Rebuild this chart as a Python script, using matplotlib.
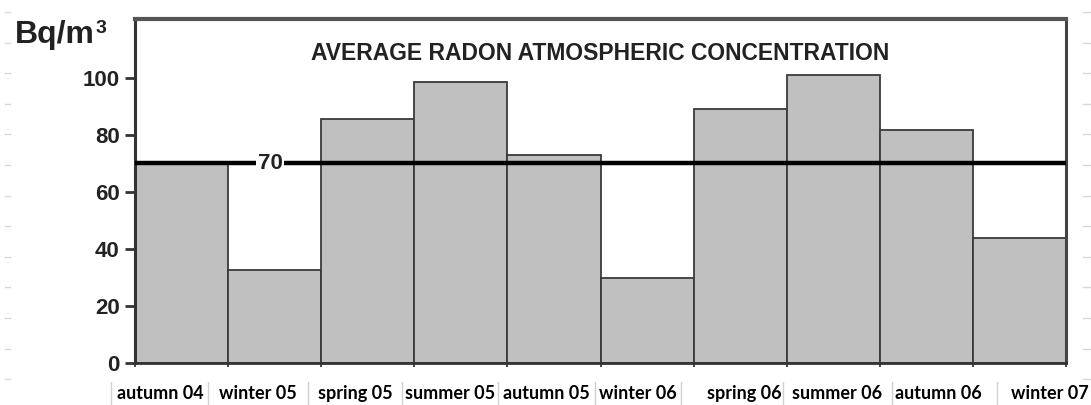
import matplotlib
matplotlib.use("Agg")
import matplotlib.pyplot as plt
from matplotlib.lines import Line2D

seasons = ["autumn 04", "winter 05", "spring 05", "summer 05", "autumn 05",
           "winter 06", "spring 06", "summer 06", "autumn 06", "winter 07"]
radon = [70, 32.5, 85.5, 98.5, 73, 29.8, 89, 101, 81.5, 43.7]
limit = 70
yticks = [0, 20, 40, 60, 80, 100]

W, H = 1091, 405
arial = ["Liberation Sans", "DejaVu Sans"]

fig = plt.figure(figsize=(W / 100, H / 100), dpi=100)
ax = fig.add_axes([135 / W, 1 - 363 / H, (1066 - 135) / W, (363 - 19) / H])

x = list(range(len(seasons)))
ax.bar(x, radon, width=1.0, color="#c0c0c0", edgecolor="#3a3a3a", linewidth=1.3, zorder=2)
ax.axhline(limit, color="black", lw=3.2, zorder=3)
ax.text(0.95, limit, str(limit), ha="center", va="center", fontsize=16, fontweight="bold",
        family=arial, color="#222222", zorder=4,
        bbox=dict(facecolor="white", edgecolor="none", pad=1.5))

ax.set_xlim(-0.5, len(seasons) - 0.5)
ax.set_ylim(0, 120.5)
ax.set_yticks(yticks)
ax.set_yticklabels([str(v) for v in yticks], fontsize=16, fontweight="bold",
                   family=arial, color="#222222")
ax.tick_params(axis="y", direction="out", length=7, width=2, color="#333333", pad=4)
ax.set_xticks([i - 0.5 for i in range(len(seasons) + 1)])
ax.set_xticklabels([])
ax.tick_params(axis="x", direction="out", length=3, width=1.3, color="#3a3a3a")

ax.spines["left"].set_linewidth(2.2)
ax.spines["left"].set_color("#333333")
ax.spines["bottom"].set_linewidth(2)
ax.spines["bottom"].set_color("#333333")
ax.spines["top"].set_linewidth(3)
ax.spines["top"].set_color("#555555")
ax.spines["right"].set_linewidth(2.2)
ax.spines["right"].set_color("#444444")

ax.text(0.5, 0.9, "AVERAGE RADON ATMOSPHERIC CONCENTRATION", transform=ax.transAxes,
        ha="center", va="center", fontsize=16.5, fontweight="bold", family=arial,
        color="#222222")

fig.text(15 / W, 1 - 43 / H, "Bq/m", ha="left", va="baseline", fontsize=23,
         fontweight="bold", family=arial, color="#222222")
fig.text(96 / W, 1 - 20 / H, "3", ha="left", va="top", fontsize=14,
         fontweight="bold", family=arial, color="#222222")

# label strip under the chart
lab = fig.add_axes([0, 0, 1, 23 / H])
lab.set_xlim(0, W)
lab.set_ylim(0, 1)
lab.axis("off")
cell_edges = [111, 208, 308, 402, 498, 595, 681, 783, 892, 997]
label_centers = [160, 258, 355, 450, 546, 638, 744, 837, 938, 1050]
for e in cell_edges:
    lab.axvline(e, color="#d0d0d0", lw=1)
for cx, s in zip(label_centers, seasons):
    lab.text(cx, 0.5, s, ha="center", va="center", fontsize=13, fontweight="bold",
             family=["Lato", "DejaVu Sans"], color="black")

# faint leftover gridline stubs on the edges
for k in range(13):
    yy = 1 - (12 + 30.6 * k) / H
    fig.add_artist(Line2D([5 / W, 10 / W], [yy, yy], color="#d8d8d8", lw=1))
    fig.add_artist(Line2D([1083 / W, 1091 / W], [yy, yy], color="#d8d8d8", lw=1))

fig.savefig("out.png", dpi=100)
